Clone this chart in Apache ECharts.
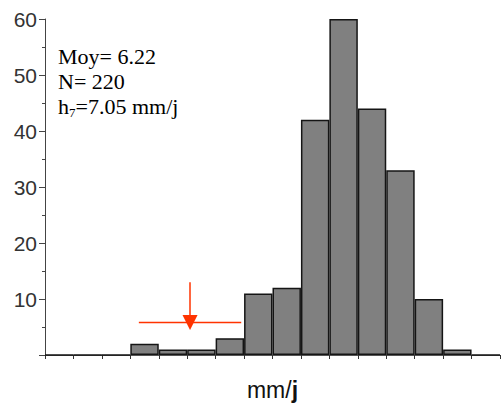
<!DOCTYPE html>
<html>
<head>
<meta charset="utf-8">
<script src="https://cdn.jsdelivr.net/npm/echarts@6/dist/echarts.min.js"></script>
<style>
  html, body { margin: 0; padding: 0; background: #fff; }
  #chart { width: 501px; height: 406px; }
</style>
</head>
<body>
<div id="chart"></div>
<script>
// histogram classes (16 slots, last one empty)
var classes = ['1','2','3','4','5','6','7','8','9','10','11','12','13','14','15','16'];
var counts = [0, 0, 0, 2, 1, 1, 3, 11, 12, 42, 60, 44, 33, 10, 1, 0];
var yTicks = [10, 20, 30, 40, 50, 60];
var statLines = ['Moy= 6.22', 'N= 220', 'h{sub|7}=7.05 mm/j'];
// red threshold marker, in class units / counts
var markerSpan = [3.3, 6.9];
var markerLevel = 5.8;
var arrowX = 5.1;
var arrowTop = 13;

(function() {
    var chart = echarts.init(document.getElementById('chart'), null, { renderer: 'svg' });
    var red = '#ff3300';
    chart.setOption({
        animation: false,
        grid: { left: 45, right: 1, top: 19, bottom: 47 },
        xAxis: [{
            type: 'category',
            data: classes,
            axisLabel: { show: false },
            axisTick: { show: true, alignWithLabel: false, length: 4, lineStyle: { color: '#333' } },
            axisLine: { lineStyle: { color: '#555', width: 1 } },
            name: '{a|mm/}{b|j}',
            nameLocation: 'middle',
            nameGap: 23,
            nameTextStyle: {
                rich: {
                    a: { fontFamily: 'Liberation Sans', fontSize: 23, color: '#111' },
                    b: { fontFamily: 'Liberation Sans', fontSize: 23, color: '#111', fontWeight: 'bold' }
                }
            }
        }, {
            type: 'value', min: 0, max: 16, show: false
        }],
        yAxis: {
            type: 'value', min: 0, max: 60, interval: 10, offset: 5,
            axisLine: { show: true, lineStyle: { color: '#444', width: 1 } },
            axisTick: { show: true, length: 6, lineStyle: { color: '#444' } },
            minorTick: { show: true, splitNumber: 2, length: 3, lineStyle: { color: '#444' } },
            splitLine: { show: false },
            axisLabel: {
                fontFamily: 'Liberation Sans', fontSize: 21, color: '#333', margin: 3,
                formatter: function(v) { return yTicks.indexOf(v) >= 0 ? String(v) : ''; }
            }
        },
        series: [{
            type: 'bar',
            data: counts,
            barCategoryGap: 0,
            itemStyle: { color: '#808080', borderColor: '#151515', borderWidth: 1.5 }
        }, {
            type: 'line',
            xAxisIndex: 1,
            data: [[markerSpan[0], markerLevel], [markerSpan[1], markerLevel]],
            symbol: 'none',
            lineStyle: { color: red, width: 1.5 },
            silent: true,
            markLine: {
                silent: true,
                symbol: ['none', 'triangle'],
                symbolSize: [15, 15],
                label: { show: false },
                lineStyle: { color: red, width: 1.5, type: 'solid' },
                data: [[{ coord: [arrowX, arrowTop] }, { coord: [arrowX, markerLevel] }]]
            }
        }],
        graphic: [{
            type: 'text',
            left: 58,
            top: 44,
            style: {
                text: statLines.join('\n'),
                fontFamily: 'Liberation Serif',
                fontSize: 22,
                lineHeight: 25,
                fill: '#000',
                rich: {
                    sub: { fontFamily: 'Liberation Serif', fontSize: 13, verticalAlign: 'bottom', padding: [10, 0, 0, 0] }
                }
            }
        }]
    });
    window.addEventListener('resize', function() { chart.resize(); });
})();
</script>
</body>
</html>
